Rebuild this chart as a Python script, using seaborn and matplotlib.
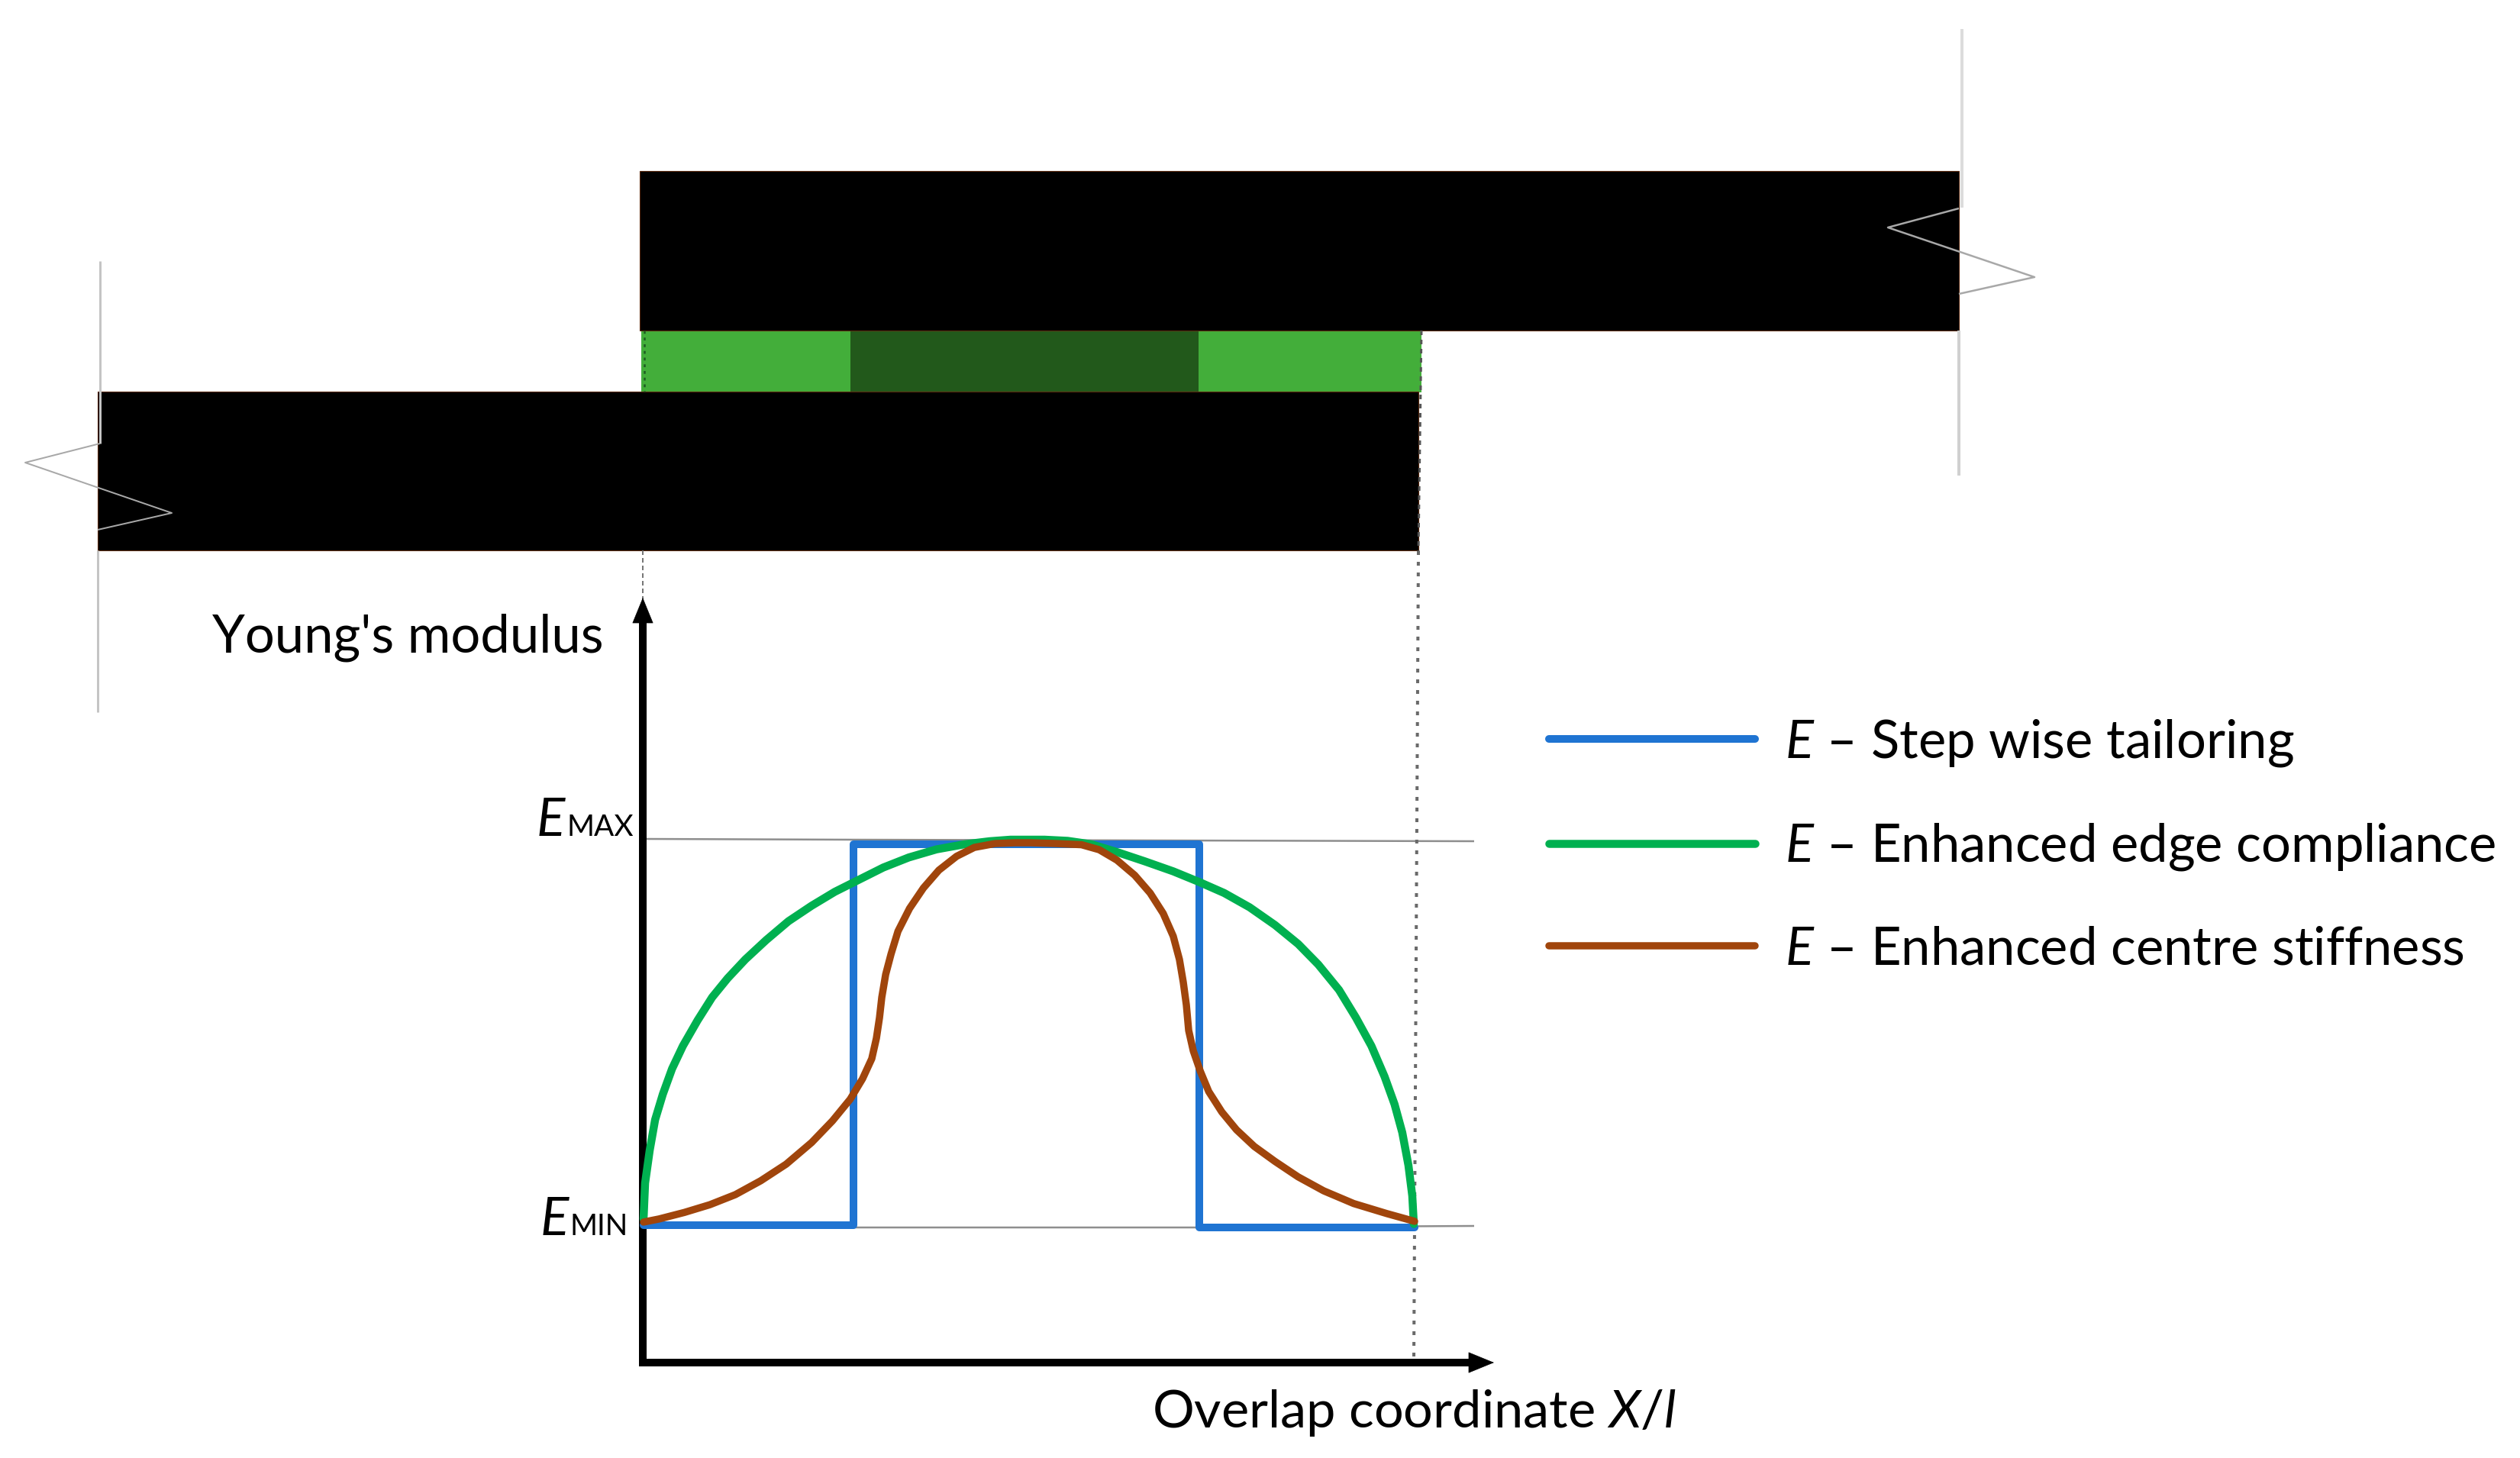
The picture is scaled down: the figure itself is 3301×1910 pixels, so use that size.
import matplotlib
matplotlib.use("Agg")
import matplotlib.pyplot as plt
import pandas as pd
import seaborn as sns

sns.set_theme(style="white")
plt.rcParams["font.family"] = ["Lato", "DejaVu Sans"]
plt.rcParams["mathtext.fontset"] = "custom"
plt.rcParams["mathtext.rm"] = "Lato"
plt.rcParams["mathtext.it"] = "Lato:italic"

# Curves: overlap coordinate X/l against normalised modulus (E-Emin)/(Emax-Emin)
step_x = [0.0, 0.272, 0.272, 0.721, 0.721, 1.0]
step_e = [0.002, 0.002, 0.988, 0.988, -0.004, -0.004]
edge_x = [0.0, 0.002, 0.008, 0.015, 0.025, 0.037, 0.051, 0.07, 0.089, 0.109, 0.132, 0.159,
          0.188, 0.218, 0.248, 0.274, 0.311, 0.344, 0.38, 0.416, 0.449, 0.476, 0.52, 0.55,
          0.581, 0.614, 0.65, 0.687, 0.72, 0.753, 0.786, 0.819, 0.849, 0.875, 0.902, 0.924,
          0.944, 0.961, 0.974, 0.984, 0.992, 0.997, 0.999]
edge_e = [0.018, 0.111, 0.196, 0.275, 0.341, 0.407, 0.466, 0.532, 0.592, 0.641, 0.69, 0.74,
          0.789, 0.829, 0.865, 0.891, 0.928, 0.954, 0.975, 0.988, 0.996, 1.0, 1.0, 0.997,
          0.988, 0.968, 0.944, 0.918, 0.891, 0.862, 0.825, 0.779, 0.73, 0.677, 0.611, 0.539,
          0.466, 0.387, 0.315, 0.242, 0.157, 0.078, 0.005]
centre_x = [0.0, 0.02, 0.053, 0.086, 0.119, 0.152, 0.185, 0.218, 0.245, 0.268, 0.284, 0.296,
            0.302, 0.306, 0.309, 0.314, 0.321, 0.33, 0.345, 0.363, 0.383, 0.406, 0.429, 0.456,
            0.482, 0.502, 0.535, 0.568, 0.591, 0.614, 0.637, 0.657, 0.674, 0.687, 0.695, 0.7,
            0.704, 0.707, 0.713, 0.722, 0.733, 0.75, 0.769, 0.792, 0.819, 0.849, 0.882, 0.921,
            0.964, 1.0]
centre_e = [0.01, 0.018, 0.035, 0.055, 0.081, 0.117, 0.16, 0.216, 0.272, 0.328, 0.381, 0.433,
            0.486, 0.539, 0.592, 0.651, 0.704, 0.763, 0.822, 0.875, 0.921, 0.957, 0.98, 0.99,
            0.992, 0.992, 0.99, 0.987, 0.974, 0.947, 0.908, 0.862, 0.809, 0.75, 0.69, 0.631,
            0.572, 0.506, 0.453, 0.401, 0.348, 0.295, 0.249, 0.206, 0.167, 0.127, 0.091, 0.058,
            0.032, 0.012]
series_labels = ["$E$ – Step wise tailoring",
                 "$E$ – Enhanced edge compliance",
                 "$E$ – Enhanced centre stiffness"]
series_colors = ["#1F74D2", "#00B050", "#A0450C"]

W, H = 3301, 1910
fig = plt.figure(figsize=(W / 100, H / 100), dpi=100, facecolor="white")


def px_lw(p):
    return p * 72 / 100


# Schematic layer, laid out in figure pixels
sk = fig.add_axes([0, 0, 1, 1], zorder=1)
sk.set_xlim(0, W)
sk.set_ylim(H, 0)
sk.axis("off")

edge = "#5a2a10"
sk.barh(473.5, 1022, left=840, height=81, color="#43AE3A", linewidth=0)
sk.barh(473.5, 456, left=1114, height=81, color="#22591B", linewidth=0)
sk.barh(328.5, 1728, left=838, height=209, color="black", edgecolor=edge, linewidth=0.8)
sk.barh(617, 1730, left=128, height=208, color="black", edgecolor=edge, linewidth=0.8)

grey = "#c4c4c4"
zig = "#a8a8a8"
for xs, ys, c, w in [
    ([131, 131], [342, 581], grey, 3),
    ([131, 33, 225, 128], [581, 606, 672, 694], zig, 2),
    ([128, 128], [721, 933], grey, 3),
    ([2570, 2570], [38, 272], "#dcdcdc", 4),
    ([2566, 2473, 2665, 2566], [273, 298, 363, 385], zig, 2.5),
    ([2566, 2566], [433, 623], "#d0d0d0", 4),
    ([845, 1118, 1931], [1099, 1100, 1102], "#8e8e8e", 2.5),
    ([845, 1570, 1931], [1608, 1608, 1606], "#8e8e8e", 2.5),
]:
    sk.plot(xs, ys, color=c, lw=px_lw(w), solid_capstyle="butt")

sk.plot([842, 842], [721, 785], color="#777777", lw=px_lw(2), ls=(0, (3, 2)))
sk.plot([844, 844], [433, 513], color="#1d5c22", lw=px_lw(2.5), ls=(0, (1.5, 2)))
sk.plot([1862, 1858], [433, 722], color="#555555", lw=px_lw(3), ls=(0, (2, 2)))
sk.plot([1858, 1852], [722, 1782], color="#6a6a6a", lw=px_lw(4), ls=(0, (1.25, 2.25)))

# Axes arrows: shafts, then heads
sk.plot([842, 842], [800, 1789], color="black", lw=px_lw(10), solid_capstyle="butt")
sk.plot([837, 1935], [1785, 1785], color="black", lw=px_lw(10), solid_capstyle="butt")
for xy, xytext in [((842, 783), (842, 830)), ((1957, 1785), (1900, 1785))]:
    sk.annotate("", xy=xy, xytext=xytext, annotation_clip=False,
                arrowprops=dict(arrowstyle="-|>,head_length=1.05,head_width=0.43", color="black",
                                lw=0.5, shrinkA=0, shrinkB=0, mutation_scale=22))

txt = dict(color="black", va="baseline", ha="left")
sk.text(278, 854, "Young's modulus", fontsize=49.5, **txt)
sk.text(1509, 1870, "Overlap coordinate $X/l$", fontsize=49.3, **txt)
sk.text(703, 1095, "E", fontsize=50, style="italic", **txt)
sk.text(742, 1095, "MAX", fontsize=28, **txt)
sk.text(708, 1618, "E", fontsize=50, style="italic", **txt)
sk.text(747, 1618, "MIN", fontsize=28, **txt)

# Curve layer: X/l from 0 to 1 and E from Emin to Emax
ax = fig.add_axes([843 / W, 1 - 1606 / H, 1010 / W, 506 / H], zorder=2)
ax.patch.set_alpha(0)
ax.set_xlim(0, 1)
ax.set_ylim(0, 1)
ax.axis("off")

frames = [(step_x, step_e), (edge_x, edge_e), (centre_x, centre_e)]
widths = [10, 10.5, 9.5]
for (x, e), lab, col, w in zip(frames, series_labels, series_colors, widths):
    d = pd.DataFrame({"x": x, "e": e})
    sns.lineplot(data=d, x="x", y="e", sort=False, estimator=None, ax=ax, color=col,
                 lw=px_lw(w), label=lab, clip_on=False)
ax.set_xlabel("")
ax.set_ylabel("")

leg = fig.legend(*ax.get_legend_handles_labels(), loc="upper left",
                 bbox_to_anchor=(1974 / W, 1 - 885 / H), frameon=False, fontsize=49.5,
                 handlelength=3.93, handletextpad=0.56, labelspacing=1.006, borderpad=0.3,
                 labelcolor="black")
ax.get_legend().remove()
leg.set_zorder(5)

fig.savefig("out.png", dpi=100, facecolor="white")
